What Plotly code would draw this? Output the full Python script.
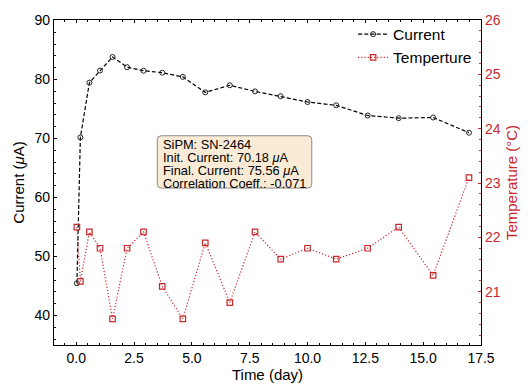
import plotly.graph_objects as go

# Measurement days and readings for SiPM SN-2464
days = [0.03, 0.18, 0.57, 1.03, 1.57, 2.2, 2.91, 3.72, 4.61, 5.58,
        6.64, 7.73, 8.84, 10.0, 11.24, 12.6, 13.94, 15.43, 16.98]
current_uA = [45.46, 70.18, 79.46, 81.52, 83.82, 82.08, 81.48, 81.15, 80.44, 77.82,
              79.02, 77.98, 77.16, 76.18, 75.62, 73.89, 73.44, 73.56, 70.98]
temperature_C = [22.19, 21.19, 22.1, 21.8, 20.5, 21.8, 22.1, 21.1, 20.5, 21.9,
                 20.8, 22.1, 21.6, 21.8, 21.6, 21.8, 22.19, 21.3, 23.1]

info_lines = ["SiPM: SN-2464",
              "Init. Current: 70.18 <i>μ</i>A",
              "Final. Current: 75.56 <i>μ</i>A",
              "Correlation Coeff.: -0.071"]

RED = "#c8282c"
FONT = "Liberation Sans, Arial, Helvetica, sans-serif"

W, H = 529, 392
L, R, T, B = 54, 488, 14.5, 350


def px_to_paper(x, y):
    return (x - L) / (R - L), 1 - (y - T) / (B - T)


fig = go.Figure()
fig.add_trace(go.Scatter(
    x=days, y=current_uA, name="Current", mode="lines+markers",
    line=dict(color="black", width=1.2, dash="4px,2.2px"),
    marker=dict(symbol="circle-open", size=5, color="#222222", line=dict(width=1)),
))
fig.add_trace(go.Scatter(
    x=days, y=temperature_C, name="Temperture", mode="lines+markers", yaxis="y2",
    line=dict(color=RED, width=1.2, dash="1.2px,2px"),
    marker=dict(symbol="square-open", size=5.5, color=RED, line=dict(width=1.2)),
))

# Rounded info box drawn as a path in paper coordinates
bx0, by0, bx1, by1, rad = 159, 134, 316, 188, 4
def P(x, y):
    u, v = px_to_paper(x, y)
    return f"{u:.5f},{v:.5f}"
path = (f"M {P(bx0 + rad, by0)} L {P(bx1 - rad, by0)} Q {P(bx1, by0)} {P(bx1, by0 + rad)} "
        f"L {P(bx1, by1 - rad)} Q {P(bx1, by1)} {P(bx1 - rad, by1)} "
        f"L {P(bx0 + rad, by1)} Q {P(bx0, by1)} {P(bx0, by1 - rad)} "
        f"L {P(bx0, by0 + rad)} Q {P(bx0, by0)} {P(bx0 + rad, by0)} Z")
fig.add_shape(type="path", path=path, xref="paper", yref="paper",
              fillcolor="#f9ebd6", line=dict(color="#8a8a8a", width=1))

for i, line in enumerate(info_lines):
    u, v = px_to_paper(163, 143.5 + 13.1 * i)
    fig.add_annotation(text=line, x=u, y=v, xref="paper", yref="paper",
                       xanchor="left", yanchor="middle", showarrow=False,
                       font=dict(family=FONT, size=12.8, color="black"))

axis_common = dict(
    showgrid=False, zeroline=False, showline=True, linecolor="black", linewidth=1.2,
    ticks="inside", ticklen=3, tickcolor="black", tickwidth=1,
    tickfont=dict(family=FONT, size=14, color="black"),
)

fig.update_layout(
    width=W, height=H,
    margin=dict(l=L, r=W - R, t=T, b=H - B),
    paper_bgcolor="white", plot_bgcolor="white",
    font=dict(family=FONT, color="black"),
    showlegend=True,
    legend=dict(x=px_to_paper(358, 0)[0], y=px_to_paper(0, 12)[1],
                xanchor="left", yanchor="top", bgcolor="rgba(0,0,0,0)",
                font=dict(family=FONT, size=15.5), tracegroupgap=0,
                itemwidth=30),
    xaxis=dict(
        **axis_common, range=[-0.96, 17.5], dtick=2.5, tick0=0, tickformat=".1f",
        mirror="ticks",
        minor=dict(dtick=0.5, ticks="inside", ticklen=2, tickcolor="black"),
        title=dict(text="Time (day)", font=dict(family=FONT, size=15), standoff=4),
    ),
    yaxis=dict(
        **axis_common, range=[35.0, 90.08], dtick=10,
        minor=dict(dtick=2, ticks="inside", ticklen=2, tickcolor="black"),
        title=dict(text="Current (<i>μ</i>A)", font=dict(family=FONT, size=15), standoff=6),
    ),
    yaxis2=dict(
        showgrid=False, zeroline=False, showline=True, linecolor="black", linewidth=1.2,
        ticks="inside", ticklen=3, tickcolor=RED, tickwidth=1,
        tickfont=dict(family=FONT, size=14, color=RED),
        overlaying="y", side="right", range=[20.02, 26], dtick=1, tick0=0,
        minor=dict(dtick=0.2, ticks="inside", ticklen=2, tickcolor=RED),
        title=dict(text="Temperature (°C)", font=dict(family=FONT, size=15, color=RED), standoff=6),
    ),
)

fig.write_html("out.html")
